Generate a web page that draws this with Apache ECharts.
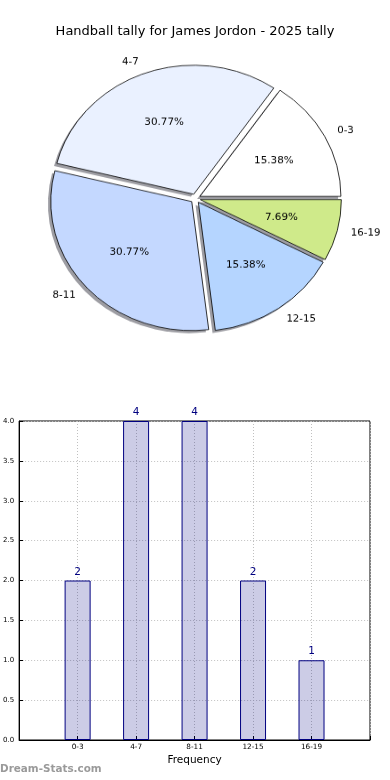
<!DOCTYPE html>
<html><head><meta charset="utf-8">
<script src="https://cdn.jsdelivr.net/npm/echarts@6/dist/echarts.min.js"></script>
<style>
html,body{margin:0;padding:0;background:#fff}
#wrap{position:relative;width:390px;height:780px}
#c{position:absolute;left:0;top:0;width:390px;height:780px}
#p{position:absolute;left:0;top:0;width:390px;height:400px;transform:scaleY(0.915);transform-origin:0 198.5px}
</style>
</head><body><div id="wrap"><div id="c"></div><div id="p"></div></div>
<script>
var titleText = 'Handball tally for James Jordon - 2025 tally';
var categories = ['0-3', '4-7', '8-11', '12-15', '16-19'];
var counts = [2, 4, 4, 2, 1];
var sliceColors = ['#ffffff', '#eaf1ff', '#c4d8ff', '#b5d5ff', '#cfea8a'];
var yTicks = [0, 0.5, 1, 1.5, 2, 2.5, 3, 3.5, 4];
var xAxisName = 'Frequency';
var watermark = 'Dream-Stats.com';

var FONT = 'DejaVu Sans';
var total = counts.reduce(function (a, b) { return a + b; }, 0);

var chart = echarts.init(document.getElementById('c'), null, {renderer: 'canvas'});
var pie = echarts.init(document.getElementById('p'), null, {renderer: 'canvas'});

var barCats = [''].concat(categories).concat(['']);
var barVals = ['-'].concat(counts).concat(['-']);

chart.setOption({
  animation: false,
  backgroundColor: '#fff',
  title: {
    text: titleText, left: 'center', top: 20,
    textStyle: {fontFamily: FONT, fontSize: 13, fontWeight: 'normal', color: '#000'}
  },
  graphic: [{
    type: 'text', left: 0, top: 764,
    style: {text: watermark, fontFamily: FONT, fontSize: 10.4, fontWeight: 'bold', fill: '#9a9a9a'}
  }],
  grid: {left: 19, right: 20, top: 421, height: 319, show: true, borderColor: '#000', borderWidth: 1},
  xAxis: {
    type: 'category', data: barCats, boundaryGap: false,
    name: xAxisName, nameLocation: 'middle', nameGap: 15,
    nameTextStyle: {fontFamily: FONT, fontSize: 10.5, color: '#000'},
    axisLine: {lineStyle: {color: '#000', width: 1}},
    axisTick: {show: true, inside: true, length: 4, lineStyle: {color: '#000'}, interval: 0},
    axisLabel: {interval: 0, fontFamily: FONT, fontSize: 7.3, color: '#000', margin: 4},
    splitLine: {show: true, interval: 0, lineStyle: {color: '#c0c0c0', type: [1, 2], width: 1}}
  },
  yAxis: {
    type: 'value', min: yTicks[0], max: yTicks[yTicks.length - 1], interval: yTicks[1] - yTicks[0],
    axisLine: {show: true, lineStyle: {color: '#000', width: 1}},
    axisTick: {show: true, inside: true, length: 4, lineStyle: {color: '#000'}},
    axisLabel: {fontFamily: FONT, fontSize: 7, color: '#000', margin: 5,
      formatter: function (v) { return v.toFixed(1); }},
    splitLine: {show: true, lineStyle: {color: '#c0c0c0', type: [1, 2], width: 1}}
  },
  series: [{
    type: 'bar', data: barVals, barWidth: 26,
    itemStyle: {color: 'rgba(0,0,128,0.2)', borderColor: '#000080', borderWidth: 1},
    label: {show: true, position: 'top', distance: 3, fontFamily: FONT, fontSize: 10.5, color: '#000080'},
    emphasis: {disabled: true}
  }]
});

var R = 141, CX = 195.5, CY = 198.5, OFF = 5, SH = 2.8;
function sliceData(withColor) {
  return categories.map(function (c, i) {
    var d = {name: c, value: counts[i], selected: true};
    if (withColor) d.itemStyle = {color: sliceColors[i]};
    return d;
  });
}
var common = {
  type: 'pie', clockwise: false, startAngle: 0,
  selectedMode: 'multiple', selectedOffset: OFF,
  avoidLabelOverlap: false, emphasis: {disabled: true}, silent: true
};
pie.setOption({
  animation: false,
  backgroundColor: 'transparent',
  series: [
    Object.assign({}, common, {
      center: [CX - SH, CY + SH], radius: R, z: 1,
      itemStyle: {color: '#9d9da3', borderWidth: 0},
      label: {show: false}, labelLine: {show: false},
      data: sliceData(false)
    }),
    Object.assign({}, common, {
      center: [CX, CY], radius: R, z: 2,
      itemStyle: {borderColor: '#000', borderWidth: 0.8},
      label: {show: true, position: 'outside', formatter: '{b}', fontFamily: FONT, fontSize: 10.2,
        color: '#000', distanceToLabelLine: 0},
      labelLine: {show: false, length: 14, length2: 0},
      data: sliceData(true)
    }),
    Object.assign({}, common, {
      center: [CX, CY], radius: 161, z: 3,
      itemStyle: {color: 'rgba(0,0,0,0)', borderWidth: 0},
      label: {show: true, position: 'inside', fontFamily: FONT, fontSize: 10.4, color: '#000',
        formatter: function (p) { return (p.value / total * 100).toFixed(2) + '%'; }},
      labelLine: {show: false},
      data: sliceData(false)
    })
  ]
});
</script></body></html>
